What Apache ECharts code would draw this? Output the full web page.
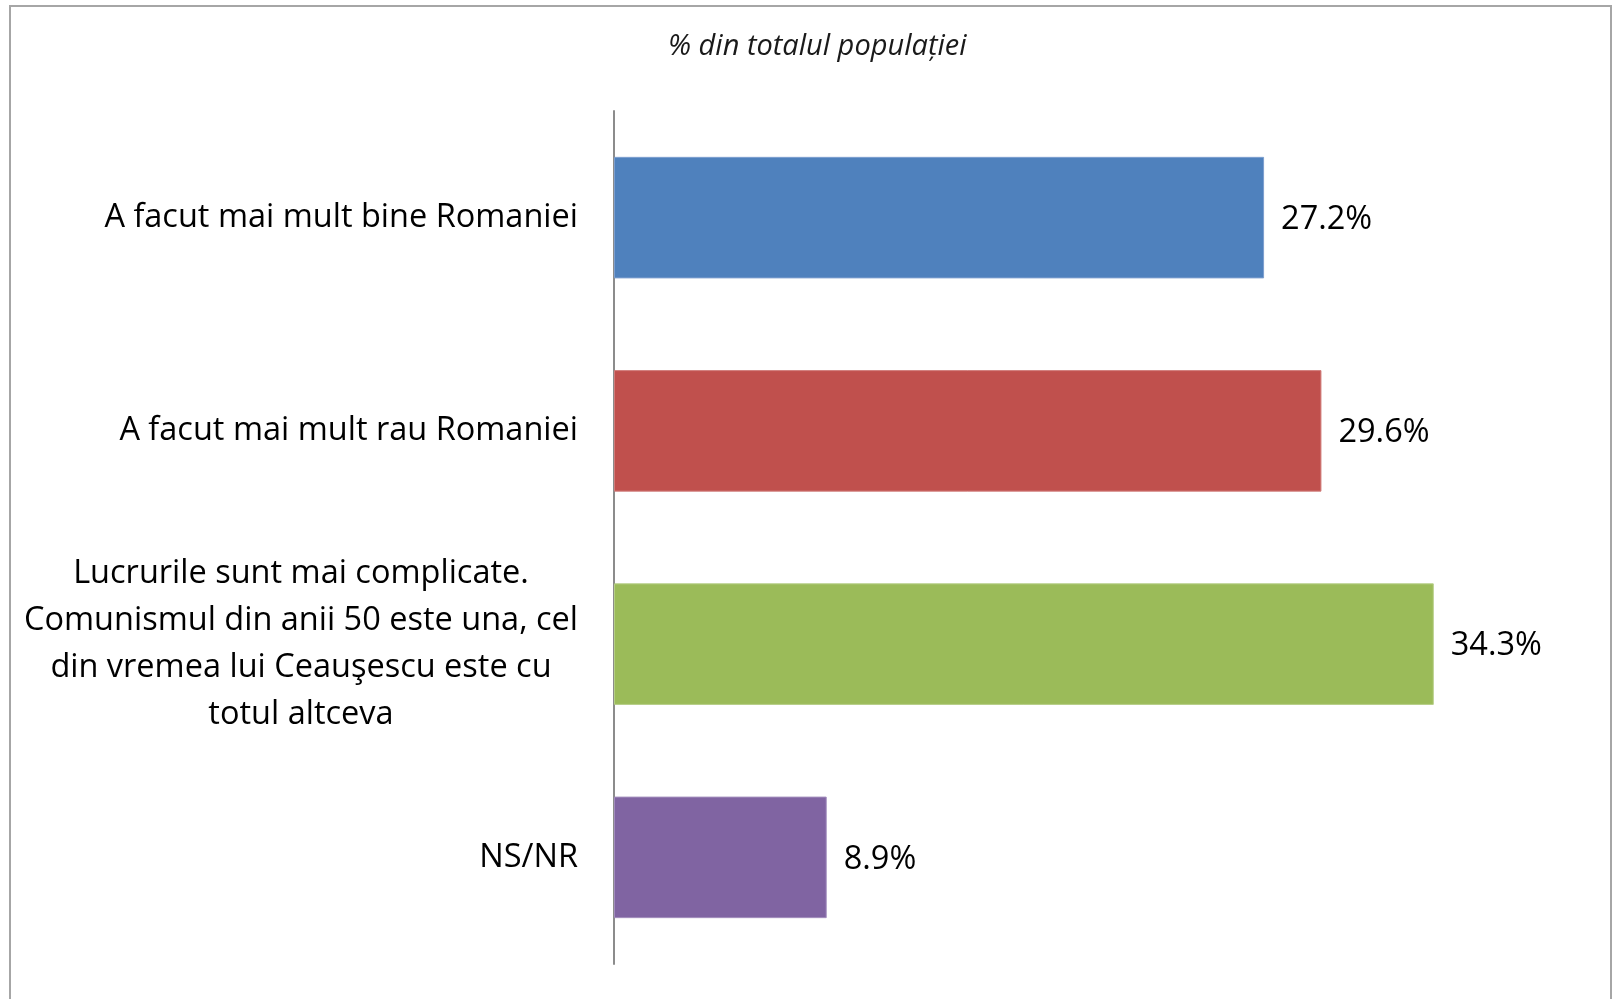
<!DOCTYPE html>
<html>
<head>
<meta charset="utf-8">
<script src="https://cdn.jsdelivr.net/npm/echarts@6/dist/echarts.min.js"></script>
<style>
html,body{margin:0;padding:0;background:#fff;}
#chart{width:1612px;height:999px;}
</style>
</head>
<body>
<div id="chart"></div>
<script>
const titleText = '% din totalul populației';
const categories = [
  'A facut mai mult bine Romaniei',
  'A facut mai mult rau Romaniei',
  'Lucrurile sunt mai complicate.\nComunismul din anii 50 este una, cel\ndin vremea lui Ceauşescu este cu\ntotul altceva',
  'NS/NR'
];
const values = [27.2, 29.6, 34.3, 8.9];
const barColors = ['#4F81BD', '#C0504D', '#9BBB59', '#8064A2'];
const borderColors = ['#7D9FCF', '#D17D7B', '#B6CE86', '#A28DBD'];

const FONT = 'Open Sans';
const LABEL_SIZE = 32.5;
const chart = echarts.init(document.getElementById('chart'));
chart.setOption({
  animation: false,
  backgroundColor: '#fff',
  title: {
    text: titleText,
    left: 663,
    top: 27,
    textStyle: {fontFamily: FONT, fontStyle: 'italic', fontWeight: 'normal', fontSize: 29, color: '#1a1a1a'}
  },
  graphic: [{
    type: 'rect',
    shape: {x: 10, y: 6, width: 1601, height: 1010},
    style: {fill: 'none', stroke: '#a6a6a6', lineWidth: 2},
    silent: true
  }],
  grid: {left: 614, top: 111, width: 956, bottom: 35, containLabel: false},
  xAxis: {
    type: 'value', min: 0, max: 40, show: false, splitLine: {show: false}
  },
  yAxis: {
    type: 'category',
    inverse: true,
    data: categories,
    axisLine: {show: true, lineStyle: {color: '#8c8c8c', width: 2}},
    axisTick: {show: false},
    axisLabel: {
      margin: 36,
      fontFamily: FONT,
      fontSize: LABEL_SIZE,
      color: '#000',
      lineHeight: 47,
      formatter: function (v) {
        if (v.indexOf('\n') < 0) return v;
        return v.split('\n').map(l => '{c|' + l + '}').join('\n');
      },
      rich: {
        c: {align: 'center', width: 554, fontFamily: FONT, fontSize: LABEL_SIZE, lineHeight: 47, color: '#000'}
      }
    }
  },
  series: [{
    type: 'bar',
    data: values.map((v, i) => ({value: v, itemStyle: {color: barColors[i], borderColor: borderColors[i], borderWidth: 1}})),
    barCategoryGap: '43%',
    label: {
      show: true,
      position: 'right',
      distance: 17,
      fontFamily: FONT,
      fontSize: LABEL_SIZE,
      color: '#000',
      offset: [0, 2],
      formatter: p => p.value.toFixed(1) + '%'
    }
  }]
});
</script>
</body>
</html>
